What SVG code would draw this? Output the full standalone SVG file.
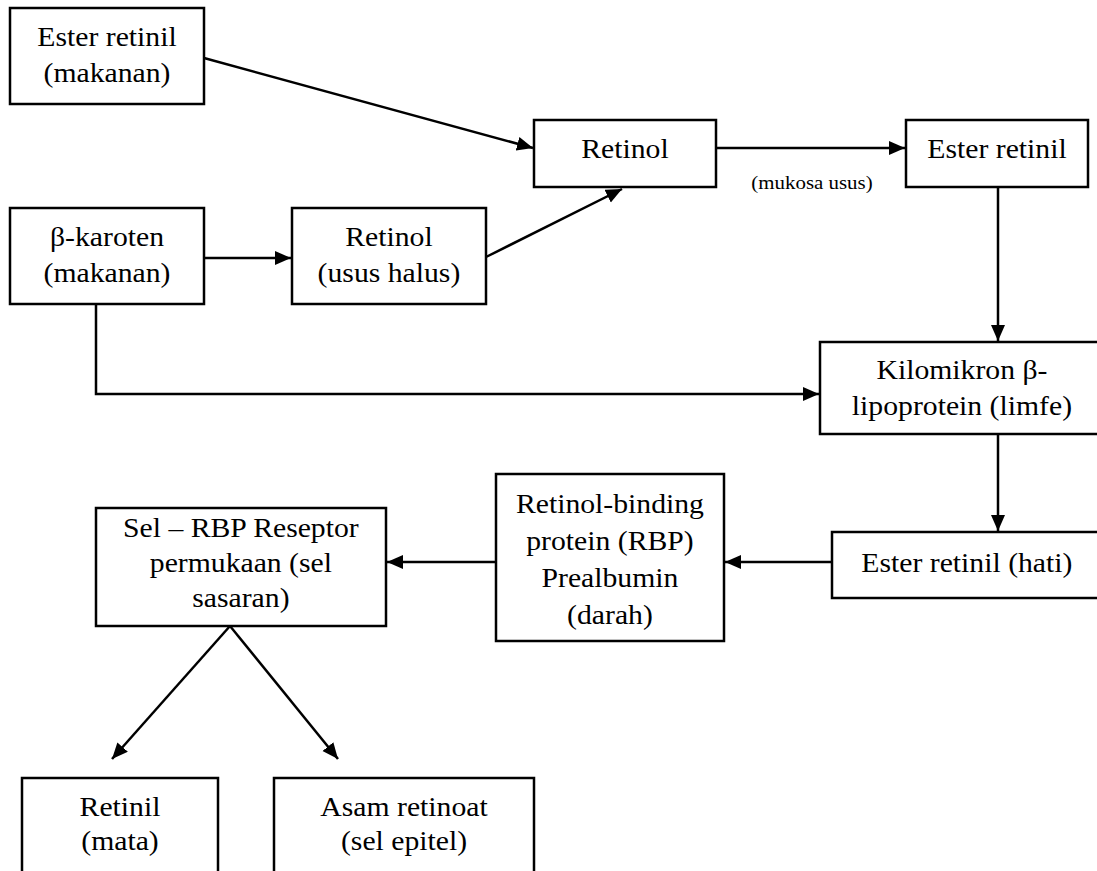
<svg xmlns="http://www.w3.org/2000/svg" width="1097" height="871" viewBox="0 0 1097 871">
<style>
rect.box{fill:#fff;stroke:#000;stroke-width:2.5}
.t{font-family:'Liberation Serif','Times New Roman',Tinos,'DejaVu Serif',serif;font-size:27px;fill:#000;text-anchor:middle}
.s{font-family:'Liberation Serif','Times New Roman',Tinos,'DejaVu Serif',serif;font-size:19px;fill:#000;text-anchor:middle}
.c{fill:none;stroke:#000;stroke-width:2.5}
</style>
<defs>
<marker id="ah" markerUnits="userSpaceOnUse" markerWidth="17" markerHeight="15" refX="16" refY="7" orient="auto">
<path d="M0,0 L16,7 L0,14 z" fill="#000"/>
</marker>
</defs>
<rect width="1097" height="871" fill="#fff"/>
<g id="connectors">
<line class="c" x1="204" y1="58" x2="533" y2="148" marker-end="url(#ah)"/>
<line class="c" x1="486" y1="257" x2="622" y2="189" marker-end="url(#ah)"/>
<line class="c" x1="204" y1="258" x2="291" y2="258" marker-end="url(#ah)"/>
<line class="c" x1="716" y1="148" x2="905" y2="148" marker-end="url(#ah)"/>
<line class="c" x1="998" y1="187" x2="998" y2="341" marker-end="url(#ah)"/>
<polyline class="c" points="96,304 96,394 819,394" marker-end="url(#ah)"/>
<line class="c" x1="998" y1="434" x2="998" y2="531" marker-end="url(#ah)"/>
<line class="c" x1="832" y1="562" x2="725" y2="562" marker-end="url(#ah)"/>
<line class="c" x1="496" y1="562" x2="387" y2="562" marker-end="url(#ah)"/>
<line class="c" x1="230" y1="626" x2="112" y2="759" marker-end="url(#ah)"/>
<line class="c" x1="230" y1="626" x2="338" y2="759" marker-end="url(#ah)"/>
<text class="s" transform="scale(1.1 1)" x="738.2" y="189">(mukosa usus)</text>
</g>
<g id="node-ester-makanan">
<rect class="box" x="10" y="8" width="194" height="96"/>
<g transform="scale(1.1 1)"><text class="t" x="97.3" y="46">Ester retinil</text><text class="t" x="97.3" y="82">(makanan)</text></g>
</g>
<g id="node-karoten">
<rect class="box" x="10" y="208" width="194" height="96"/>
<g transform="scale(1.1 1)"><text class="t" x="97.3" y="246">β-karoten</text><text class="t" x="97.3" y="282">(makanan)</text></g>
</g>
<g id="node-retinol-usus">
<rect class="box" x="292" y="208" width="194" height="96"/>
<g transform="scale(1.1 1)"><text class="t" x="353.6" y="246">Retinol</text><text class="t" x="353.6" y="282">(usus halus)</text></g>
</g>
<g id="node-retinol">
<rect class="box" x="534" y="120" width="182" height="67"/>
<g transform="scale(1.1 1)"><text class="t" x="568.2" y="158">Retinol</text></g>
</g>
<g id="node-ester-retinil">
<rect class="box" x="906" y="120" width="182" height="67"/>
<g transform="scale(1.1 1)"><text class="t" x="906.4" y="158">Ester retinil</text></g>
</g>
<g id="node-kilomikron">
<rect class="box" x="820" y="342" width="290" height="92"/>
<g transform="scale(1.1 1)"><text class="t" x="874.5" y="379">Kilomikron β-</text><text class="t" x="874.5" y="415">lipoprotein (limfe)</text></g>
</g>
<g id="node-ester-hati">
<rect class="box" x="832" y="532" width="280" height="66"/>
<g transform="scale(1.1 1)"><text class="t" x="879" y="572">Ester retinil (hati)</text></g>
</g>
<g id="node-rbp">
<rect class="box" x="496" y="474" width="228" height="167"/>
<g transform="scale(1.1 1)"><text class="t" x="554.5" y="513">Retinol-binding</text><text class="t" x="554.5" y="550">protein (RBP)</text><text class="t" x="554.5" y="587">Prealbumin</text><text class="t" x="554.5" y="624">(darah)</text></g>
</g>
<g id="node-sel">
<rect class="box" x="96" y="508" width="290" height="118"/>
<g transform="scale(1.1 1)"><text class="t" x="219" y="537">Sel – RBP Reseptor</text><text class="t" x="219" y="572">permukaan (sel</text><text class="t" x="219" y="607">sasaran)</text></g>
</g>
<g id="node-retinil-mata">
<rect class="box" x="22" y="778" width="196" height="130"/>
<g transform="scale(1.1 1)"><text class="t" x="109.1" y="816">Retinil</text><text class="t" x="109.1" y="850">(mata)</text></g>
</g>
<g id="node-asam">
<rect class="box" x="274" y="778" width="260" height="130"/>
<g transform="scale(1.1 1)"><text class="t" x="367.3" y="816">Asam retinoat</text><text class="t" x="367.3" y="850">(sel epitel)</text></g>
</g>
</svg>
